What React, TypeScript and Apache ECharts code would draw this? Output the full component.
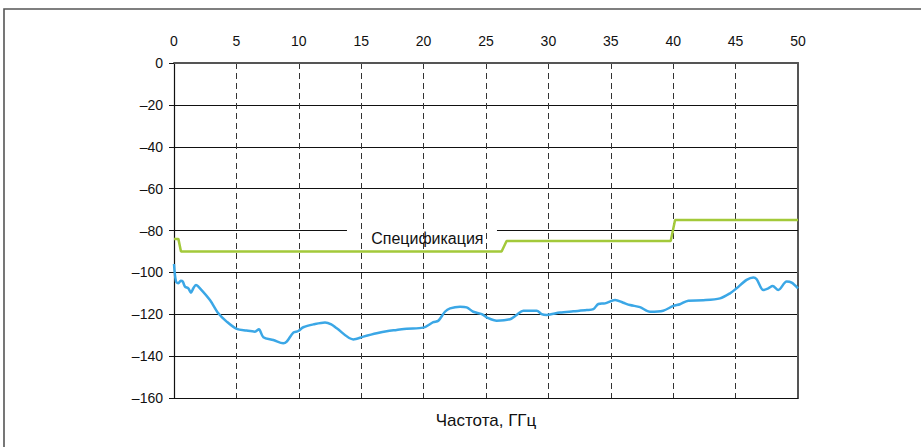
import React, { useEffect, useRef } from "react";
import * as echarts from "echarts";

const freqs = [
  0, 0.16, 0.35, 0.54, 0.7, 0.88, 1.15, 1.36, 1.55, 1.76, 2.08, 2.88, 3.55, 4.22, 5.02, 5.8, 6.49, 6.8, 7.16, 7.96,
  8.76, 9.03, 9.56, 9.96, 10.36, 11.2, 12.1, 12.6, 13.04, 14.37, 15.17, 16.24, 17.04, 17.84, 18.65, 19.98, 20.78,
  21.18, 21.71, 22.12, 22.92, 23.45, 23.98, 24.66, 25.19, 25.86, 26.92, 27.46, 27.99, 29.06, 29.46, 29.86, 30.93,
  31.99, 33.07, 33.6, 34.0, 34.54, 35.34, 36.0, 36.54, 37.34, 38.14, 39.2, 40.01, 40.54, 41.21, 42.41, 43.75, 44.55,
  45.08, 45.88, 46.42, 46.69, 47.22, 47.62, 47.97, 48.42, 49.09, 49.49, 50,
];
const levels = [
  -96, -104.4, -105.2, -104, -104.4, -106.8, -107.6, -109.7, -107.6, -106, -107.6, -113.2, -119.5, -123.5, -127,
  -127.8, -128.3, -127.2, -131, -132.3, -133.9, -133.1, -128.8, -128, -126.2, -124.8, -123.9, -124.8, -126.7, -132,
  -130.7, -129.1, -128.1, -127.5, -126.9, -126.4, -123.8, -123.1, -118.8, -117.2, -116.4, -116.7, -118.8, -119.9,
  -121.9, -123.1, -122.4, -120.3, -118.3, -118.3, -119.9, -120.3, -119.2, -118.6, -118, -117.6, -115.1, -114.8,
  -113.2, -114.5, -115.6, -116.6, -118.8, -118.3, -116, -115.2, -113.5, -113.3, -112.4, -110, -107.6, -103.6,
  -102.4, -103.3, -108.4, -107.6, -106.5, -108.4, -104.4, -104.9, -107.6,
];
const specFreqs = [0, 0.35, 0.56, 26.25, 26.65, 39.8, 40.15, 50];
const specLevels = [-84, -84, -90, -90, -85, -85, -75, -75];

const xTicks = { min: 0, max: 50, interval: 5 };
const yTicks = { min: -160, max: 0, interval: 20 };
const specLabel = "Спецификация";
const specLabelAt = [20.3, -83.8];
const gridGap = [13.86, 25.88];
const xName = "Частота, ГГц";

const FONT = "'Liberation Sans', Arial, sans-serif";

export default function App() {
  const ref = useRef<HTMLDivElement>(null);
  useEffect(() => {
    if (!ref.current) return;
    const chart = echarts.init(ref.current, null, { renderer: "svg" });
    const blue = freqs.map((f, i) => [f, levels[i]]);
    const green = specFreqs.map((f, i) => [f, specLevels[i]]);
    const gridColors = [] as string[];
    for (let v = yTicks.min; v <= yTicks.max; v += yTicks.interval) {
      gridColors.push(v === -80 ? "rgba(0,0,0,0)" : "#111");
    }
    chart.setOption({
      animation: false,
      textStyle: { fontFamily: FONT },
      graphic: [
        {
          type: "rect",
          shape: { x: 4, y: 9, width: 1000, height: 1000 },
          style: { fill: "none", stroke: "#555", lineWidth: 1.6 },
          silent: true,
        },
      ],
      grid: { left: 174, top: 63, right: 123, bottom: 49, outerBoundsMode: "none" },
      xAxis: [
        {
          type: "value",
          position: "top",
          ...xTicks,
          axisLine: { show: true, lineStyle: { color: "#555", width: 2 } },
          axisTick: { show: false },
          axisLabel: { color: "#111", fontSize: 14, margin: 15, fontFamily: FONT },
          splitLine: { show: true, lineStyle: { color: "#333", type: [6, 4], width: 1 } },
        },
        {
          type: "value",
          position: "bottom",
          ...xTicks,
          axisLine: { show: true, onZero: false, lineStyle: { color: "#111", width: 1 } },
          axisTick: { show: false },
          axisLabel: { show: false },
          splitLine: { show: false },
          name: xName,
          nameLocation: "middle",
          nameGap: 14,
          nameTextStyle: { color: "#111", fontSize: 17, fontFamily: FONT },
        },
      ],
      yAxis: [
        {
          type: "value",
          position: "left",
          ...yTicks,
          axisLine: { show: true, onZero: false, lineStyle: { color: "#111", width: 1.2 } },
          axisTick: { show: true, length: 5, lineStyle: { color: "#111" } },
          axisLabel: {
            color: "#111",
            fontSize: 14,
            margin: 11,
            fontFamily: FONT,
            formatter: (v: number) => (v < 0 ? "\u2013" + Math.abs(v) : String(v)),
          },
          splitLine: { show: true, lineStyle: { color: gridColors, width: 1 } },
        },
        {
          type: "value",
          position: "right",
          ...yTicks,
          axisLine: { show: true, onZero: false, lineStyle: { color: "#555", width: 2 } },
          axisTick: { show: false },
          axisLabel: { show: false },
          splitLine: { show: false },
        },
      ],
      series: [
        {
          type: "line",
          data: green,
          xAxisIndex: 0,
          yAxisIndex: 0,
          showSymbol: false,
          symbol: "none",
          lineStyle: { color: "#a3c93a", width: 2.5 },
          z: 3,
          markLine: {
            silent: true,
            symbol: "none",
            label: { show: false },
            lineStyle: { color: "#111", width: 1, type: "solid" },
            data: [
              [{ coord: [xTicks.min, -80] }, { coord: [gridGap[0], -80] }],
              [{ coord: [gridGap[1], -80] }, { coord: [xTicks.max, -80] }],
            ],
            z: 1,
          },
          markPoint: {
            silent: true,
            symbol: "circle",
            symbolSize: 1,
            itemStyle: { color: "rgba(0,0,0,0)" },
            label: {
              show: true,
              position: "inside",
              formatter: specLabel,
              color: "#111",
              fontSize: 16,
              fontFamily: FONT,
            },
            data: [{ coord: specLabelAt }],
          },
        },
        {
          type: "line",
          data: blue,
          xAxisIndex: 0,
          yAxisIndex: 0,
          showSymbol: false,
          symbol: "none",
          smooth: 0.3,
          lineStyle: { color: "#3ba7e6", width: 2.5 },
          z: 4,
        },
      ],
    });
    return () => chart.dispose();
  }, []);
  return (
    <div
      ref={ref}
      style={{ position: "fixed", left: 0, top: 0, width: 921, height: 447, background: "#fff" }}
    />
  );
}
